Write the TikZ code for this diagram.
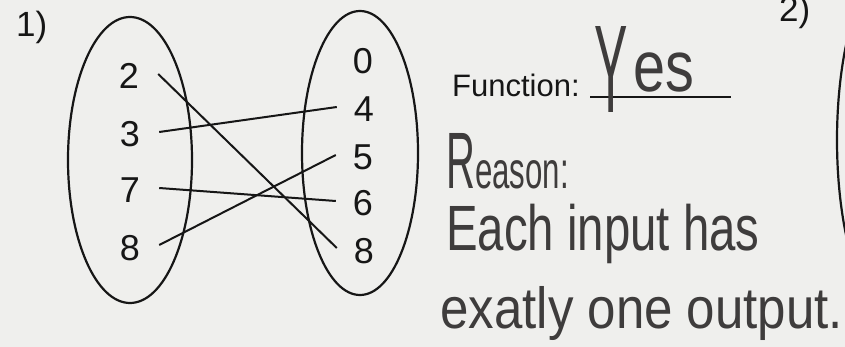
\documentclass[tikz,border=0pt]{standalone}
\usepackage{fontspec}
\setmainfont{Liberation Sans}
\usepackage{graphicx}
\definecolor{paper}{RGB}{239,239,237}
\definecolor{ink}{RGB}{22,22,22}
\definecolor{pencil}{RGB}{62,60,60}
\begin{document}
\begin{tikzpicture}[x=1pt,y=-1pt,
  digit/.style={font=\fontsize{36}{36}\selectfont, text=ink, text height=30pt, text depth=0pt, inner ysep=0pt, anchor=base},
  ldigit/.style={digit, inner xsep=19pt},
  rdigit/.style={digit, inner xsep=17pt},
  printed/.style={text=ink, inner sep=0pt, anchor=base west},
  hand/.style={text=pencil, inner sep=0pt, anchor=base west},
  setline/.style={draw=ink, line width=2.2pt},
  mapline/.style={draw=ink, line width=2pt}]
\fill[paper] (0,0) rectangle (845,347);
\useasboundingbox (0,0) rectangle (845,347);
\begin{scope}
\clip (0,0) rectangle (845,347);
% question numbers
\node[printed, font=\fontsize{35}{35}\selectfont] (q1) at (16,37) {1)};
\node[printed, font=\fontsize{35}{35}\selectfont] (q2) at (779,22) {2)};
% sets
\draw[setline] (130,160) ellipse [x radius=62, y radius=143];
\draw[setline] (360,153) ellipse [x radius=58, y radius=142];
\draw[setline] (897,140) ellipse [x radius=60, y radius=180];
% domain
\node[ldigit] (l2) at (129,89) {2};
\node[ldigit] (l3) at (130,147) {3};
\node[ldigit] (l7) at (130,203) {7};
\node[ldigit] (l8) at (130,260) {8};
% range
\node[rdigit] (r0) at (363,74) {0};
\node[rdigit] (r4) at (364,122) {4};
\node[rdigit] (r5) at (363,170) {5};
\node[rdigit] (r6) at (363,216) {6};
\node[rdigit] (r8) at (364,263) {8};
% mapping
\draw[mapline] (l2.east) -- (r8.west);
\draw[mapline] (l3.east) -- (r4.west);
\draw[mapline] (l7.east) -- (r6.west);
\draw[mapline] (l8.east) -- (r5.west);
% function answer
\node[printed, font=\fontsize{31}{31}\selectfont] (fn) at (452,97) {Function:};
\coordinate (u1) at (590,97);
\coordinate (u2) at (731,97);
\draw[line width=1.5pt, ink] (u1) -- (u2);
\node[hand] (yes) at (594,92) {\raisebox{-21pt}{\scalebox{0.4}[1]{\fontsize{125}{125}\selectfont Y}}\hspace{6pt}\scalebox{0.8}[1]{\fontsize{72}{72}\selectfont es}};
% reason
\node[hand] (reason) at (446,189) {\scalebox{0.5}[1]{\fontsize{80}{80}\selectfont R}\scalebox{0.6}[1]{\fontsize{52}{52}\selectfont eason:}};
\node[hand] (line1) at (446,251) {\scalebox{0.74}[1]{\fontsize{64}{64}\selectfont Each input has}};
\node[hand] (line2) at (440,328) {\scalebox{0.88}[1]{\fontsize{58}{58}\selectfont exatly one output.}};
\end{scope}
\end{tikzpicture}
\end{document}
